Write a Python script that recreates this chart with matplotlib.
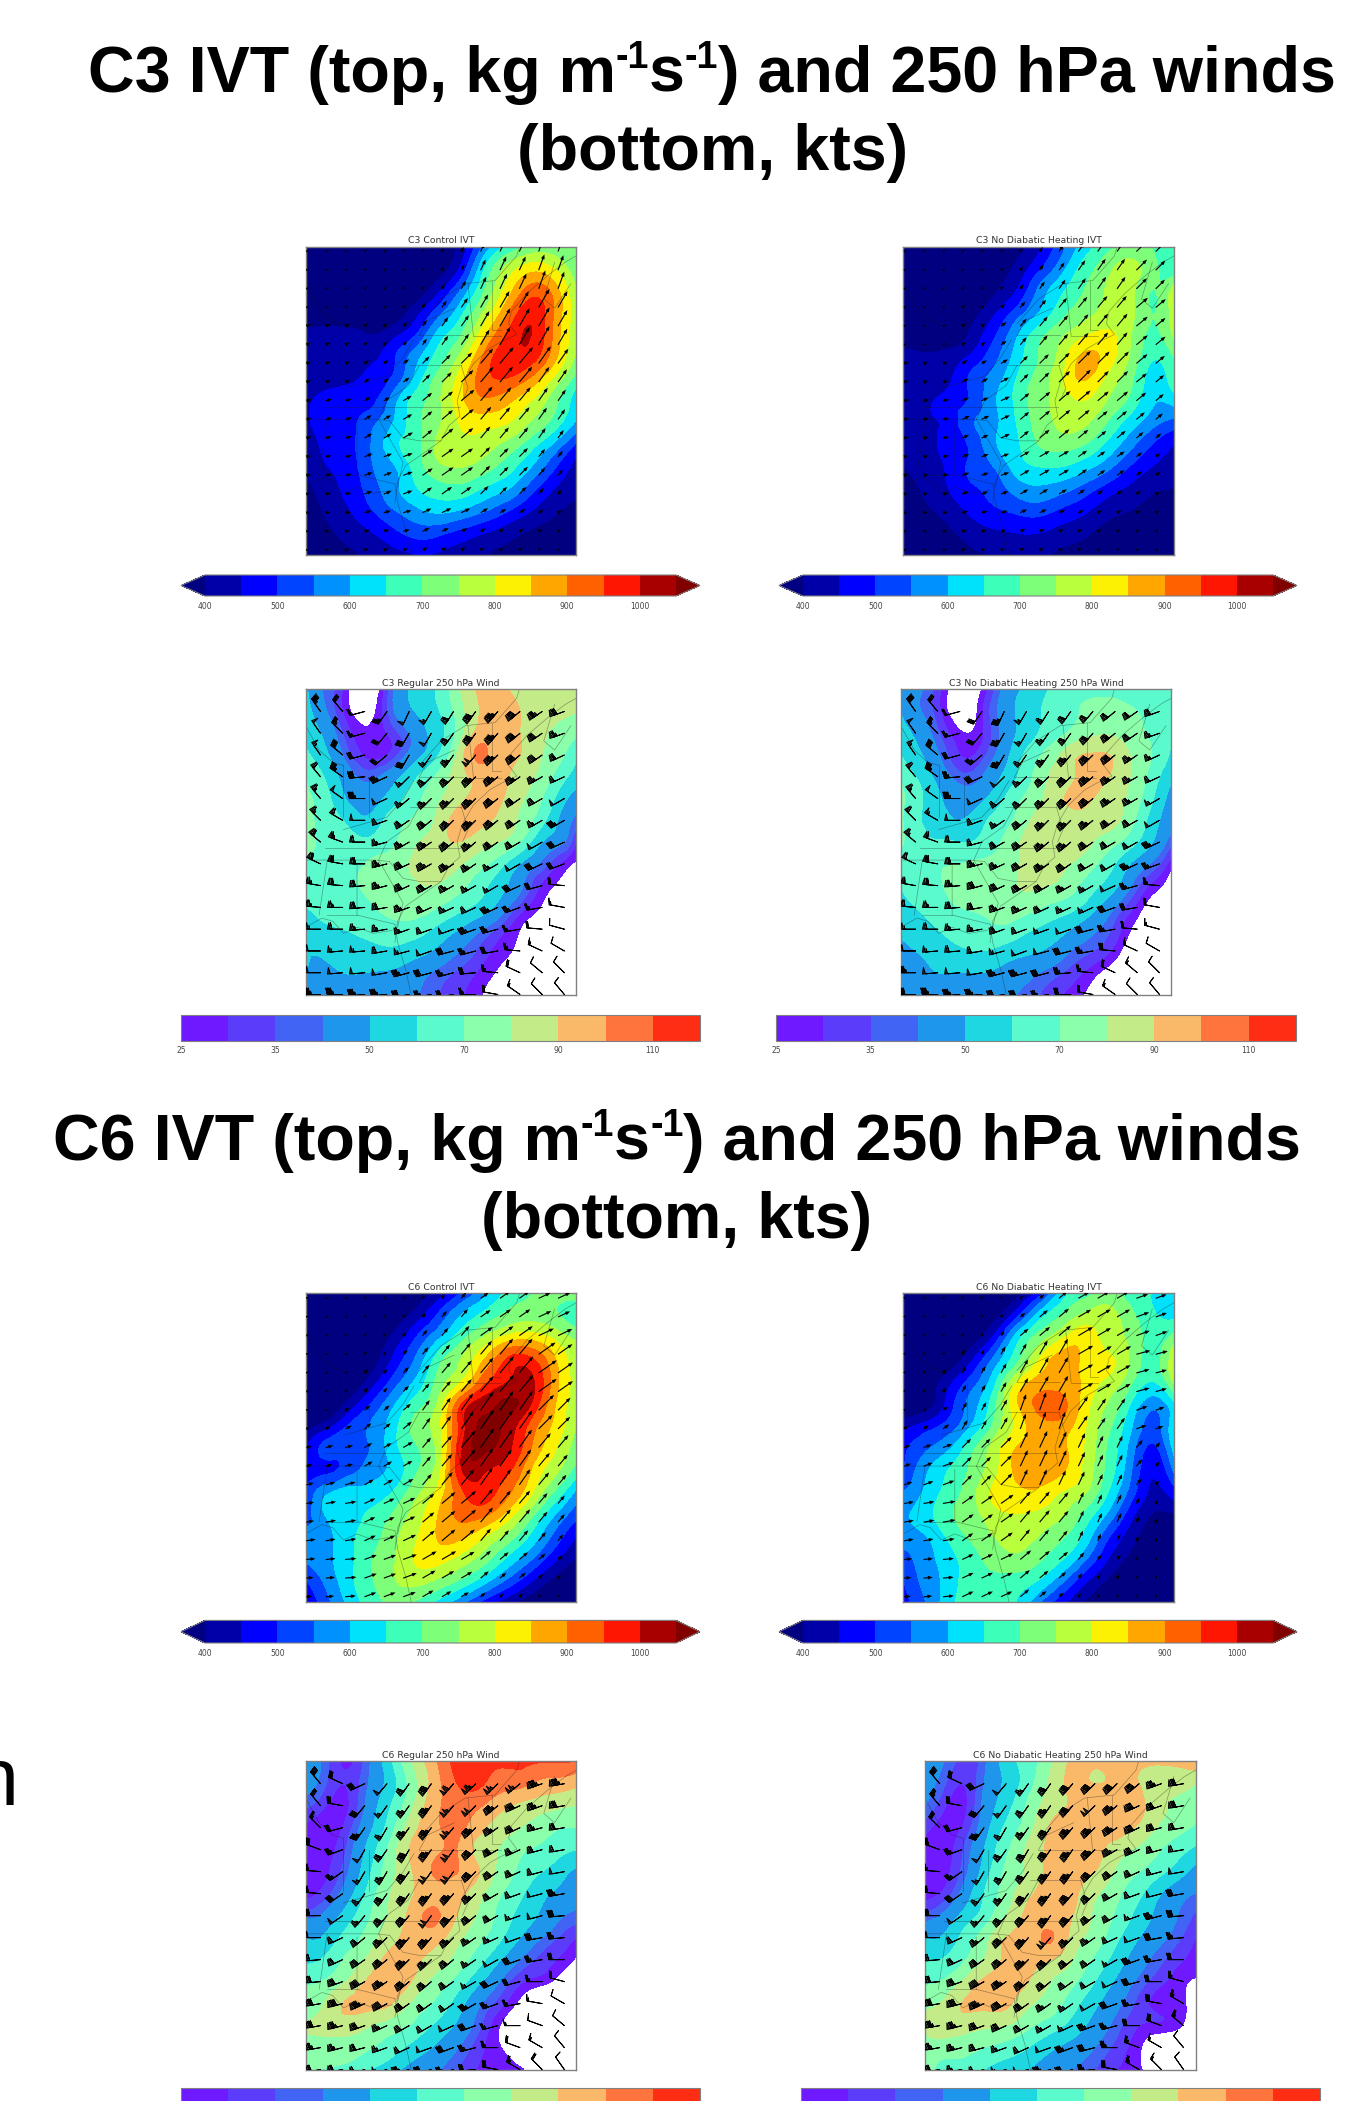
import numpy as np
import matplotlib
matplotlib.use('Agg')
import matplotlib.pyplot as plt
from matplotlib.colors import ListedColormap, BoundaryNorm
from matplotlib.cm import ScalarMappable
from matplotlib.tri import Triangulation, UniformTriRefiner

plt.rcParams['font.family'] = ['DejaVu Sans']

W, H = 1347, 2101

IVT_LEVELS = [400, 450, 500, 550, 600, 650, 700, 750, 800, 850, 900, 950, 1000, 1050]
IVT_TICKS = [400, 500, 600, 700, 800, 900, 1000]
WIND_LEVELS = [25, 30, 35, 40, 50, 60, 70, 80, 90, 100, 110, 120]
WIND_TICKS = [25, 35, 50, 70, 90, 110]

# IVT fields, 13 columns x 15 rows, top row first
C3_CONTROL_IVT = [
    [350, 350, 350, 350, 350, 360, 380, 430, 570, 660, 710, 720, 700],
    [350, 350, 350, 350, 350, 360, 380, 480, 660, 770, 830, 800, 720],
    [350, 350, 350, 350, 350, 370, 450, 570, 710, 830, 925, 880, 750],
    [350, 350, 350, 350, 370, 440, 540, 650, 770, 900, 985, 900, 770],
    [430, 430, 420, 400, 440, 510, 630, 710, 850, 960, 1000, 890, 760],
    [430, 430, 430, 440, 500, 590, 680, 780, 920, 985, 975, 870, 740],
    [430, 430, 440, 470, 520, 630, 730, 840, 935, 945, 890, 790, 680],
    [440, 470, 480, 490, 590, 680, 750, 845, 890, 860, 800, 720, 620],
    [440, 475, 490, 540, 610, 690, 750, 810, 820, 800, 745, 680, 590],
    [430, 460, 490, 560, 640, 690, 770, 790, 770, 730, 670, 590, 490],
    [420, 450, 480, 550, 600, 680, 740, 750, 720, 670, 600, 510, 430],
    [380, 430, 470, 530, 590, 650, 680, 680, 640, 600, 520, 450, 410],
    [370, 410, 450, 500, 550, 590, 610, 590, 550, 500, 450, 410, 380],
    [360, 390, 420, 450, 490, 520, 510, 480, 450, 420, 390, 370, 350],
    [350, 370, 390, 410, 430, 450, 440, 420, 400, 380, 360, 350, 350],
]
C3_NOHEAT_IVT = [
    [350, 350, 350, 350, 360, 380, 440, 530, 620, 680, 710, 700, 680],
    [350, 350, 350, 350, 370, 410, 490, 580, 670, 730, 770, 720, 660],
    [350, 350, 350, 350, 390, 450, 560, 640, 700, 755, 770, 700, 780],
    [350, 350, 350, 380, 440, 520, 600, 680, 730, 770, 770, 700, 780],
    [350, 350, 360, 410, 490, 590, 680, 740, 790, 810, 760, 690, 760],
    [420, 410, 420, 460, 530, 620, 700, 770, 860, 830, 750, 660, 700],
    [420, 420, 440, 510, 570, 650, 720, 790, 855, 790, 720, 630, 680],
    [430, 440, 470, 510, 590, 660, 730, 770, 800, 750, 690, 610, 620],
    [430, 440, 470, 540, 590, 650, 720, 760, 760, 700, 630, 570, 530],
    [420, 430, 470, 510, 590, 640, 700, 720, 700, 640, 570, 500, 450],
    [400, 420, 460, 510, 550, 620, 650, 650, 620, 570, 500, 450, 430],
    [380, 410, 450, 490, 520, 570, 590, 570, 530, 480, 440, 410, 400],
    [360, 390, 420, 460, 490, 510, 520, 490, 460, 420, 400, 380, 370],
    [350, 370, 390, 420, 440, 450, 450, 430, 410, 380, 370, 360, 350],
    [350, 360, 370, 390, 400, 410, 410, 390, 380, 360, 350, 350, 350],
]
C6_CONTROL_IVT = [
    [350, 350, 350, 350, 350, 370, 430, 510, 590, 670, 700, 720, 730],
    [350, 350, 350, 350, 370, 430, 520, 610, 670, 715, 730, 710, 670],
    [350, 350, 350, 360, 420, 510, 600, 690, 760, 820, 830, 790, 740],
    [350, 350, 350, 380, 470, 570, 690, 760, 860, 960, 960, 860, 770],
    [350, 350, 360, 430, 530, 620, 730, 810, 940, 1000, 1010, 880, 780],
    [350, 350, 420, 510, 600, 680, 780, 960, 1030, 1060, 1000, 860, 770],
    [380, 430, 510, 560, 640, 720, 800, 990, 1060, 1030, 930, 840, 750],
    [450, 520, 530, 560, 640, 700, 790, 1010, 1060, 1010, 900, 810, 720],
    [470, 490, 530, 580, 620, 700, 800, 1010, 1005, 960, 850, 770, 680],
    [510, 590, 620, 620, 660, 740, 830, 950, 970, 910, 810, 700, 590],
    [520, 610, 640, 660, 710, 780, 860, 920, 910, 830, 720, 610, 520],
    [570, 590, 640, 680, 740, 800, 860, 860, 800, 730, 640, 540, 450],
    [560, 590, 640, 700, 750, 810, 820, 780, 720, 640, 560, 470, 400],
    [500, 570, 640, 700, 750, 770, 740, 690, 620, 540, 460, 390, 350],
    [450, 540, 620, 680, 710, 690, 630, 560, 480, 420, 370, 350, 350],
]
C6_NOHEAT_IVT = [
    [350, 350, 350, 350, 350, 380, 470, 620, 680, 710, 680, 650, 640],
    [350, 350, 350, 350, 380, 480, 620, 700, 760, 770, 720, 660, 640],
    [350, 350, 350, 370, 460, 620, 720, 790, 830, 780, 740, 680, 720],
    [350, 350, 360, 440, 560, 680, 800, 870, 840, 810, 750, 680, 790],
    [350, 370, 430, 520, 630, 790, 870, 880, 840, 790, 720, 650, 760],
    [350, 370, 470, 570, 680, 840, 910, 915, 830, 750, 660, 570, 640],
    [430, 470, 520, 600, 710, 810, 880, 880, 810, 720, 620, 530, 640],
    [490, 540, 590, 680, 770, 850, 880, 860, 800, 700, 590, 490, 620],
    [500, 590, 650, 710, 780, 860, 880, 860, 790, 690, 570, 460, 560],
    [550, 610, 670, 730, 810, 840, 840, 800, 760, 660, 540, 440, 480],
    [590, 630, 690, 730, 780, 800, 790, 760, 690, 600, 480, 400, 400],
    [580, 600, 660, 710, 750, 770, 750, 710, 640, 520, 430, 370, 360],
    [530, 580, 630, 680, 720, 740, 710, 660, 570, 460, 390, 350, 350],
    [500, 570, 620, 680, 690, 680, 650, 570, 470, 400, 360, 350, 350],
    [480, 550, 630, 680, 680, 650, 560, 470, 400, 360, 350, 350, 350],
]

# IVT vector direction in degrees, 5 columns x 6 rows
C3_CONTROL_DIR = [[30, 40, 60, 65, 70], [25, 40, 55, 60, 60], [20, 35, 45, 50, 55],
                  [15, 30, 40, 50, 55], [10, 20, 35, 45, 50], [5, 15, 25, 30, 30]]
C3_NOHEAT_DIR = [[30, 40, 55, 55, 45], [25, 35, 50, 50, 40], [15, 30, 45, 45, 40],
                 [10, 25, 40, 40, 40], [10, 20, 30, 35, 35], [5, 15, 25, 25, 25]]
C6_CONTROL_DIR = [[30, 40, 50, 35, 25], [30, 45, 50, 50, 35], [25, 40, 55, 55, 45],
                  [15, 30, 50, 55, 50], [10, 25, 40, 50, 50], [5, 20, 30, 40, 40]]
C6_NOHEAT_DIR = [[40, 55, 40, 30, 20], [50, 60, 60, 30, 15], [35, 60, 70, 55, 20],
                 [20, 45, 65, 65, 50], [10, 35, 50, 65, 60], [5, 25, 40, 50, 60]]

# 250 hPa speed, 14 columns x 15 rows: outer columns and top row sit on the frame,
# the rest are the barb positions
C3_REGULAR_WIND = [
    [52, 41, 30, 15, 33, 50, 58, 74, 90, 93, 87, 85, 85, 84],
    [55, 44, 30, 21, 34, 48, 56, 70, 88, 94, 90, 84, 82, 80],
    [58, 50, 35, 26, 30, 40, 52, 68, 92, 94, 90, 82, 75, 72],
    [62, 55, 40, 29, 30, 42, 55, 76, 101, 94, 90, 80, 70, 62],
    [70, 62, 47, 38, 43, 55, 68, 82, 93, 93, 86, 76, 62, 55],
    [72, 66, 52, 44, 52, 63, 75, 85, 93, 92, 82, 70, 52, 45],
    [78, 66, 60, 52, 62, 70, 78, 92, 93, 88, 78, 63, 45, 38],
    [75, 68, 64, 62, 66, 76, 84, 90, 86, 80, 70, 50, 40, 30],
    [68, 68, 68, 70, 75, 80, 85, 83, 75, 65, 50, 38, 28, 24],
    [65, 66, 68, 71, 75, 78, 80, 75, 66, 55, 42, 29, 22, 15],
    [60, 63, 66, 68, 72, 74, 72, 65, 58, 47, 33, 24, 15, 12],
    [52, 57, 60, 63, 66, 66, 60, 52, 43, 34, 25, 18, 12, 10],
    [50, 51, 54, 56, 58, 55, 50, 42, 35, 28, 23, 15, 12, 10],
    [50, 48, 50, 50, 49, 46, 40, 35, 30, 24, 18, 12, 10, 10],
    [45, 44, 44, 44, 44, 42, 37, 32, 27, 20, 15, 12, 10, 10],
]
C3_NOHEAT_WIND = [
    [50, 43, 32, 18, 25, 42, 52, 60, 66, 68, 68, 68, 68, 68],
    [50, 42, 32, 19, 29, 44, 55, 62, 68, 72, 72, 70, 68, 65],
    [55, 48, 36, 26, 29, 43, 55, 64, 72, 78, 78, 72, 66, 62],
    [60, 53, 41, 30, 33, 46, 62, 74, 86, 91, 88, 76, 66, 58],
    [68, 60, 47, 37, 40, 52, 66, 80, 88, 93, 87, 76, 60, 52],
    [72, 64, 52, 44, 48, 60, 72, 83, 92, 90, 84, 73, 55, 46],
    [72, 62, 55, 50, 58, 66, 78, 85, 86, 85, 82, 68, 50, 43],
    [72, 64, 61, 60, 62, 72, 82, 85, 85, 80, 72, 60, 45, 36],
    [64, 62, 68, 70, 73, 76, 82, 84, 80, 72, 60, 46, 35, 27],
    [60, 62, 68, 75, 78, 78, 81, 80, 74, 63, 52, 36, 26, 20],
    [58, 60, 65, 70, 72, 75, 74, 68, 63, 53, 40, 28, 18, 15],
    [52, 55, 60, 65, 67, 68, 62, 57, 50, 42, 33, 22, 15, 12],
    [48, 50, 54, 58, 60, 56, 52, 48, 40, 35, 28, 17, 12, 10],
    [44, 46, 50, 50, 50, 47, 43, 38, 33, 27, 20, 13, 10, 10],
    [40, 42, 44, 43, 43, 42, 38, 33, 28, 22, 14, 11, 10, 10],
]
C6_REGULAR_WIND = [
    [48, 40, 29, 36, 55, 78, 95, 112, 114, 112, 112, 111, 111, 110],
    [44, 38, 30, 38, 52, 72, 92, 108, 113, 105, 103, 97, 95, 92],
    [36, 32, 28, 40, 57, 76, 95, 103, 102, 94, 88, 84, 81, 80],
    [29, 27, 30, 44, 62, 84, 96, 103, 95, 85, 80, 74, 70, 70],
    [27, 28, 33, 50, 70, 90, 96, 101, 88, 80, 72, 68, 62, 60],
    [27, 28, 36, 54, 74, 88, 100, 101, 92, 78, 68, 60, 52, 48],
    [28, 31, 42, 60, 78, 88, 96, 95, 85, 72, 62, 52, 47, 43],
    [38, 40, 52, 66, 80, 92, 102, 92, 80, 68, 57, 48, 40, 38],
    [50, 50, 62, 72, 85, 93, 95, 85, 74, 63, 50, 40, 33, 30],
    [58, 60, 70, 80, 92, 93, 87, 78, 66, 52, 40, 33, 28, 24],
    [68, 70, 78, 90, 96, 91, 78, 68, 54, 41, 31, 27, 20, 15],
    [75, 78, 90, 93, 92, 80, 70, 58, 43, 33, 23, 15, 12, 10],
    [80, 82, 85, 82, 76, 70, 60, 50, 38, 26, 17, 12, 10, 10],
    [78, 76, 76, 72, 66, 58, 50, 42, 33, 26, 19, 13, 10, 10],
    [73, 70, 68, 62, 55, 47, 42, 36, 30, 28, 26, 18, 12, 10],
]
C6_NOHEAT_WIND = [
    [45, 42, 33, 38, 55, 65, 78, 92, 93, 92, 92, 92, 95, 100],
    [43, 38, 30, 40, 52, 66, 82, 92, 90, 92, 90, 84, 82, 80],
    [40, 33, 28, 42, 56, 72, 85, 92, 98, 93, 92, 82, 78, 76],
    [32, 28, 30, 45, 62, 76, 91, 95, 95, 94, 88, 78, 72, 68],
    [28, 27, 34, 50, 68, 82, 92, 95, 93, 85, 78, 70, 62, 58],
    [26, 27, 36, 54, 72, 82, 93, 94, 90, 78, 70, 62, 52, 46],
    [28, 30, 42, 60, 75, 88, 93, 92, 82, 72, 62, 50, 42, 40],
    [36, 40, 52, 64, 80, 92, 94, 90, 78, 68, 56, 46, 38, 34],
    [50, 50, 62, 75, 90, 95, 101, 86, 75, 62, 50, 42, 34, 30],
    [60, 60, 68, 80, 92, 93, 90, 80, 68, 55, 44, 36, 30, 28],
    [68, 70, 80, 92, 93, 90, 80, 72, 60, 48, 38, 31, 26, 24],
    [78, 80, 90, 93, 92, 82, 75, 64, 52, 42, 33, 28, 26, 18],
    [80, 85, 85, 82, 80, 72, 65, 56, 46, 37, 30, 29, 24, 15],
    [78, 75, 74, 70, 66, 60, 52, 46, 40, 33, 26, 14, 12, 12],
    [75, 68, 66, 60, 55, 50, 44, 40, 35, 30, 26, 15, 12, 10],
]

# barb direction in degrees, 12 columns x 14 rows
C3_WIND_DIR = [
    [-55, -50, 15, 55, 65, 60, 58, 55, 50, 40, 35, 20],
    [-55, -45, 15, 50, 60, 60, 55, 55, 50, 40, 35, 20],
    [-55, -40, 15, 40, 60, 55, 55, 50, 45, 40, 35, 25],
    [-50, -35, 5, 25, 45, 45, 45, 45, 40, 35, 30, 25],
    [-50, -35, 0, 25, 40, 45, 45, 45, 40, 35, 30, 30],
    [-45, -30, 0, 20, 35, 40, 45, 45, 40, 35, 30, 30],
    [-40, -20, 0, 15, 30, 35, 40, 40, 35, 30, 30, 25],
    [-25, -10, 0, 15, 25, 30, 35, 35, 30, 30, 25, 20],
    [-10, -5, 5, 15, 25, 30, 30, 30, 30, 25, 15, -5],
    [-5, 0, 5, 10, 20, 25, 25, 25, 25, 20, 10, -10],
    [0, 0, 5, 10, 20, 20, 20, 20, 15, 10, -5, -15],
    [0, 5, 5, 10, 15, 20, 15, 15, 10, -5, -25, -30],
    [0, 5, 5, 10, 15, 15, 15, 5, -5, -25, -40, -45],
    [0, 0, 5, 5, 10, 10, 10, 0, -10, -35, -45, -50],
]
C6_WIND_DIR = [
    [-50, -25, 25, 50, 55, 55, 50, 45, 45, 40, 20, 10],
    [-50, -10, 50, 55, 55, 55, 50, 45, 40, 25, 20, 10],
    [-45, 15, 55, 60, 55, 55, 50, 45, 35, 25, 15, 10],
    [-20, 20, 60, 55, 60, 55, 55, 45, 30, 25, 15, 10],
    [-5, 35, 60, 60, 55, 55, 55, 45, 35, 25, 15, 10],
    [-5, 35, 55, 55, 55, 55, 50, 45, 30, 20, 15, 10],
    [0, 35, 50, 50, 50, 55, 50, 40, 30, 20, 15, 5],
    [0, 25, 40, 45, 50, 50, 45, 35, 25, 20, 10, 5],
    [5, 25, 35, 40, 45, 45, 40, 35, 30, 20, 10, 0],
    [5, 20, 30, 35, 40, 40, 35, 30, 25, 15, 0, -15],
    [10, 15, 25, 30, 35, 35, 35, 30, 20, 10, -10, -30],
    [10, 15, 20, 25, 30, 30, 25, 20, 15, 0, -20, -40],
    [10, 15, 15, 20, 25, 20, 20, 15, 0, -20, -30, -50],
    [10, 10, 15, 15, 15, 15, 15, 5, -10, -30, -45, -55],
]

# state and coast lines, as fractions of the map (y down)
BORDERS = [
    [(.42, .288), (.58, .288)],
    [(.387, .385), (.575, .385)],
    [(.07, .519), (.57, .519)],
    [(0, .56), (.26, .56), (.31, .565)],
    [(.08, .56), (.05, .74)],
    [(.19, .57), (.19, .74), (.33, .77)],
    [(.08, .74), (.19, .74)],
    [(.14, .25), (.14, .42)],
    [(.235, .29), (.235, .42)],
    [(.33, .77), (.34, .83), (.37, .92), (.39, 1)],
    [(.33, .83), (.34, .76), (.37, .71), (.42, .68), (.50, .63), (.53, .58),
     (.57, .55), (.56, .50), (.58, .44), (.62, .38), (.68, .33), (.72, .31),
     (.78, .285), (.75, .25), (.76, .21), (.82, .15), (.90, .09), (.96, .05), (1, .03)],
    [(.42, .25), (.50, .17), (.59, .12), (.70, .11), (.78, .03), (.79, 0)],
    [(.42, .288), (.45, .24), (.55, .20)],
    [(.14, .46), (.22, .44), (.30, .42), (.36, .36), (.40, .30)],
    [(.31, .565), (.36, .62), (.42, .63), (.50, .63)],
    [(.27, .56), (.36, .70), (.34, .78)],
    [(.42, .385), (.38, .45), (.30, .50), (.27, .56)],
    [(.60, .12), (.62, .29)],
    [(.69, .11), (.69, .27), (.72, .27)],
    [(.62, .29), (.72, .29)],
    [(.575, .385), (.60, .46), (.58, .50)],
    [(0, .78), (.06, .75), (.10, .76), (.14, .80), (.19, .78), (.25, .80), (.32, .79)],
    [(.92, .05), (.88, .17), (.92, .20), (.98, .12)],
    [(.0, .12), (.05, .20), (.10, .24), (.14, .25)],
]

IVT_X = np.linspace(0, 1, 13)
IVT_Y = np.linspace(0, 1, 15)
WIND_X = np.r_[0, .055 + .0819 * np.arange(12), 1]
WIND_Y = np.r_[0, .0735 + .07127 * np.arange(14)]

jet = plt.get_cmap('jet')
ivt_cmap = ListedColormap([jet((i + .5) / 13) for i in range(13)])
ivt_cmap.set_under(jet(0.0))
ivt_cmap.set_over(jet(1.0))
ivt_norm = BoundaryNorm(IVT_LEVELS, 13)

wind_cmap = ListedColormap(['#6e19ff', '#5a3cfa', '#4164f5', '#1e96eb', '#1ed7e1', '#5afacd',
                            '#8cffaa', '#c3eb87', '#fab969', '#ff733c', '#ff2d14'])
wind_norm = BoundaryNorm(WIND_LEVELS, 11)

fig = plt.figure(figsize=(W / 100, H / 100), dpi=100)


def px_axes(x0, y0, x1, y1):
    return fig.add_axes([x0 / W, 1 - y1 / H, (x1 - x0) / W, (y1 - y0) / H])


def map_frame(ax, title):
    ax.set_xlim(0, 1)
    ax.set_ylim(1, 0)
    ax.set_xticks([])
    ax.set_yticks([])
    for s in ax.spines.values():
        s.set_color('#808080')
        s.set_linewidth(1)
    ax.set_title(title, fontsize=6.7, color='#333333', pad=2.5)


def draw_borders(ax):
    for line in BORDERS:
        xs, ys = zip(*line)
        ax.plot(xs, ys, color='#1a1a1a', lw=.5, alpha=.4)


def filled(ax, x, y, field, **kw):
    # the library's refiner rounds off the corners of the coarse read-off grid
    gx, gy = np.meshgrid(x, y)
    tri = Triangulation(gx.ravel(), gy.ravel())
    fine, z = UniformTriRefiner(tri).refine_field(field.ravel(), subdiv=3)
    ax.tricontourf(fine, z, **kw)


def ivt_panel(box, title, field, dirs):
    ax = px_axes(*box)
    field = np.array(field, dtype=float)
    filled(ax, IVT_X, IVT_Y, field, levels=IVT_LEVELS, cmap=ivt_cmap, norm=ivt_norm, extend='both')
    draw_borders(ax)
    dirs = np.radians(np.array(dirs, dtype=float))
    qx = .003 + .0715 * np.arange(15)
    qy = .016 + .0605 * np.arange(17)
    gx, gy = np.meshgrid(qx, qy)
    # magnitude from the nearest field node, direction from the coarse table
    ci = np.clip(np.round(gx * 12).astype(int), 0, 12)
    ri = np.clip(np.round(gy * 14).astype(int), 0, 14)
    di = np.clip((gx * 5).astype(int), 0, 4)
    dj = np.clip((gy * 6).astype(int), 0, 5)
    mag = field[ri, ci] - 250
    u = mag * np.cos(dirs[dj, di])
    v = mag * np.sin(dirs[dj, di])
    ax.quiver(gx, gy, u, v, angles='uv', scale_units='inches', scale=3450,
              width=.0042, headwidth=3.2, headlength=4, pivot='tail', color='k', zorder=3)
    map_frame(ax, title)


def wind_panel(box, title, field, dirs):
    ax = px_axes(*box)
    field = np.array(field, dtype=float)
    filled(ax, WIND_X, WIND_Y, field, levels=WIND_LEVELS, cmap=wind_cmap, norm=wind_norm)
    draw_borders(ax)
    dirs = np.radians(np.array(dirs, dtype=float))
    speed = field[1:, 1:-1]
    gx, gy = np.meshgrid(WIND_X[1:-1], WIND_Y[1:])
    ax.barbs(gx, gy, speed * np.cos(dirs), speed * np.sin(dirs), length=4.7, linewidth=.7,
             sizes=dict(spacing=.1, height=.42, width=.2),
             barbcolor='k', flagcolor='#2b2b2b', pivot='tip', zorder=3)
    map_frame(ax, title)


def finish_bar(cb, pad):
    cb.ax.tick_params(length=0, pad=pad, labelsize=5.5, labelcolor='#444444')
    cb.ax.minorticks_off()
    cb.outline.set_edgecolor('#808080')
    cb.outline.set_linewidth(.8)
    cb.dividers.set_visible(False)


def ivt_bar(x0, x1, y0, y1):
    cax = px_axes(x0, y0, x1, y1)
    cb = fig.colorbar(ScalarMappable(norm=ivt_norm, cmap=ivt_cmap), cax=cax, orientation='horizontal',
                      extend='both', extendfrac=.051, spacing='uniform', ticks=IVT_TICKS)
    finish_bar(cb, 4.5)


def wind_bar(x0, x1, y0, y1, ticks=WIND_TICKS):
    cax = px_axes(x0, y0, x1, y1)
    cb = fig.colorbar(ScalarMappable(norm=wind_norm, cmap=wind_cmap), cax=cax, orientation='horizontal',
                      spacing='uniform', ticks=ticks)
    finish_bar(cb, 3)


ivt_panel((305.6, 246.6, 576.3, 554.9), 'C3 Control IVT', C3_CONTROL_IVT, C3_CONTROL_DIR)
ivt_panel((903.4, 246.6, 1174, 554.9), 'C3 No Diabatic Heating IVT', C3_NOHEAT_IVT, C3_NOHEAT_DIR)
wind_panel((305.6, 689, 576.3, 994.5), 'C3 Regular 250 hPa Wind', C3_REGULAR_WIND, C3_WIND_DIR)
wind_panel((900.7, 689, 1171.4, 994.5), 'C3 No Diabatic Heating 250 hPa Wind', C3_NOHEAT_WIND, C3_WIND_DIR)
ivt_panel((305.6, 1293.4, 576.3, 1601.7), 'C6 Control IVT', C6_CONTROL_IVT, C6_CONTROL_DIR)
ivt_panel((903.4, 1293.4, 1174, 1601.7), 'C6 No Diabatic Heating IVT', C6_NOHEAT_IVT, C6_NOHEAT_DIR)
wind_panel((305.6, 1761, 576.3, 2069.6), 'C6 Regular 250 hPa Wind', C6_REGULAR_WIND, C6_WIND_DIR)
wind_panel((924.8, 1761, 1195.5, 2069.6), 'C6 No Diabatic Heating 250 hPa Wind', C6_NOHEAT_WIND, C6_WIND_DIR)

ivt_bar(181, 700, 575, 596)
ivt_bar(779, 1297, 575, 596)
wind_bar(181, 700, 1014.6, 1041.4)
wind_bar(776, 1296, 1014.6, 1041.4)
ivt_bar(181, 700, 1620.4, 1643)
ivt_bar(779, 1297, 1620.4, 1643)
# bottom bars run off the page, their labels are below the edge
wind_bar(181, 700, 2088, 2115, ticks=[])
wind_bar(801, 1320, 2088, 2115, ticks=[])


def head_line(cx, y, parts):
    # title line built from pieces so the exponents stay small and tight
    rend = fig.canvas.get_renderer()
    items = []
    for s, sup in parts:
        t = fig.text(0, 1 - (y - (24 if sup else 0)) / H, s, ha='left', va='baseline',
                     fontsize=27 if sup else 46.5, family='Liberation Sans', weight='bold', color='k')
        items.append(t)
    widths = [t.get_window_extent(rend).width for t in items]
    x = cx - sum(widths) / 2
    for t, w in zip(items, widths):
        t.set_x(x / W)
        x += w


def head(cx, y, case):
    head_line(cx, y, [(case + ' IVT (top, kg m', False), ('-1', True), ('s', False), ('-1', True),
                      (') and 250 hPa winds', False)])


head(712, 92, 'C3')
head_line(713, 170, [('(bottom, kts)', False)])
head(677, 1160, 'C6')
head_line(677, 1238, [('(bottom, kts)', False)])
fig.text(18 / W, 1 - 1805 / H, 'n', ha='right', va='baseline', fontsize=58,
         family='Liberation Sans', color='k')

fig.savefig('out.png', dpi=100)
